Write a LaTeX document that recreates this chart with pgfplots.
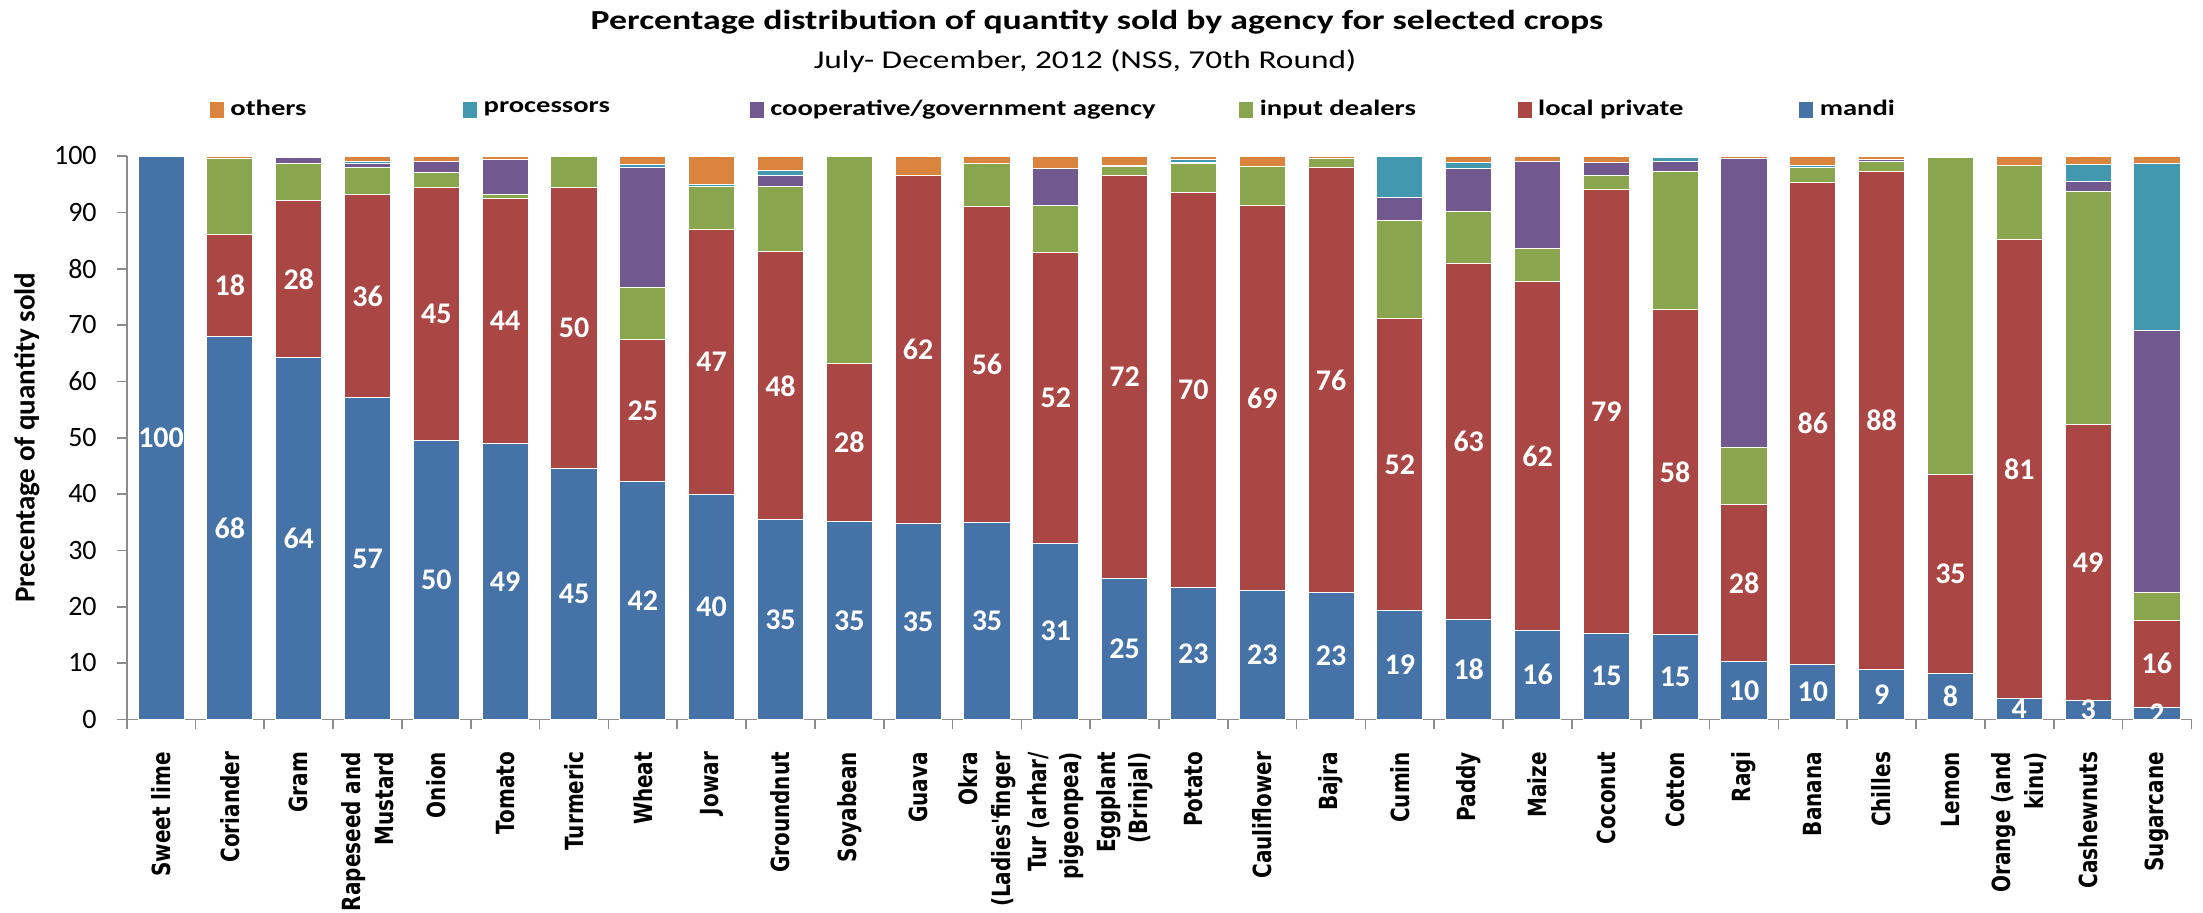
\documentclass[border=0pt]{standalone}
\usepackage{pgfplots}
\pgfplotsset{compat=1.18}
\usepackage{pgfplotstable}
\usepackage{fontspec}
\setmainfont{Carlito}
\newfontfamily\widefont{Carlito}[FakeStretch=1.3]
\newfontfamily\xlabfont{DejaVu Sans}[FakeStretch=0.8]
\definecolor{cmandi}{HTML}{4572A7}
\definecolor{clocal}{HTML}{AA4643}
\definecolor{cinput}{HTML}{89A54E}
\definecolor{ccoop}{HTML}{71588F}
\definecolor{cproc}{HTML}{4198AF}
\definecolor{cother}{HTML}{DB843D}
\definecolor{axisgray}{HTML}{8C8C8C}

\pgfplotstableread{
x mandi local input coop proc others mlab llab
0 100 0 0 0 0 0 100 {}
1 68.0 18.1 13.5 0 0 0.4 68 18
2 64.2 27.9 6.5 1.2 0 0.2 64 28
3 57.1 36.1 4.7 0.8 0.35 0.95 57 36
4 49.5 44.9 2.7 2.0 0 0.9 50 45
5 49.0 43.5 0.6 6.2 0 0.7 49 44
6 44.6 49.8 5.6 0 0 0 45 50
7 42.2 25.3 9.1 21.4 0.5 1.5 42 25
8 40.0 46.9 7.6 0 0.5 5.0 40 47
9 35.4 47.6 11.5 2.0 0.9 2.6 35 48
10 35.1 28.0 36.9 0 0 0 35 28
11 34.8 61.7 0 0 0 3.5 35 62
12 34.9 56.1 7.7 0 0 1.3 35 56
13 31.3 51.5 8.5 6.4 0 2.3 31 52
14 25.0 71.5 1.6 0 0.3 1.6 25 72
15 23.4 70.2 5.1 0.2 0.5 0.6 23 70
16 22.8 68.4 6.9 0 0 1.9 23 69
17 22.5 75.5 1.6 0 0 0.4 23 76
18 19.3 51.8 17.5 4.1 7.3 0 19 52
19 17.7 63.2 9.2 7.6 1.1 1.2 18 63
20 15.8 61.9 5.8 15.5 0 1.0 16 62
21 15.3 78.7 2.6 2.2 0 1.2 15 79
22 15.1 57.7 24.4 1.85 0.75 0.2 15 58
23 10.2 27.9 10.1 51.3 0 0.5 10 28
24 9.7 85.6 2.7 0 0.3 1.7 10 86
25 8.9 88.3 1.9 0.35 0 0.55 9 88
26 8.2 35.2 56.35 0 0 0.25 8 35
27 3.7 81.5 13.1 0 0 1.7 4 81
28 3.3 49.0 41.4 1.7 3.1 1.5 3 49
29 2.1 15.5 5.0 46.5 29.6 1.3 2 16
}\croptable

\pgfplotsset{
  sqlegend/.style={legend image code/.code={\draw[##1, draw=none] (0pt,-2.4pt) rectangle (4.2pt,2.4pt);}},
}

\begin{document}
\begin{tikzpicture}
\useasboundingbox (-38.0pt,-57.8pt) rectangle (622.9pt,215.8pt);
\begin{axis}[
  at={(0pt,0pt)}, anchor=south west,
  scale only axis, width=619.4pt, height=169.0pt,
  ybar stacked, bar width=0.67,
  xmin=-0.5, xmax=29.5, ymin=0, ymax=100,
  axis x line*=bottom, axis y line*=left,
  axis line style={draw=axisgray, line width=0.5pt, -},
  tick align=outside,
  major tick length=2.8pt,
  tick style={draw=axisgray, line width=0.5pt},
  ytick={0,10,...,100},
  xtick={-0.5,0.5,...,29.5},
  x tick label as interval,
  xticklabels={Sweet lime, Coriander, Gram, {Rapeseed and\\Mustard}, Onion, Tomato, Turmeric, Wheat, Jowar, Groundnut, Soyabean, Guava, {Okra\\(Ladies'finger}, {Tur (arhar/\\pigeonpea)}, {Eggplant\\(Brinjal)}, Potato, Cauliflower, Bajra, Cumin, Paddy, Maize, Coconut, Cotton, Ragi, Banana, Chilles, Lemon, {Orange (and\\kinu)}, Cashewnuts, Sugarcane},
  xticklabel style={rotate=90, anchor=east, align=right, inner sep=0pt, font=\xlabfont\bfseries\fontsize{7.5}{9.8}\selectfont},
  xticklabel shift=6.8pt,
  yticklabel style={font=\fontsize{8.4}{10}\selectfont, inner sep=0pt},
  yticklabel shift=6pt,
  /pgf/number format/assume math mode=true,
  ylabel={Precentage of quantity sold},
  every axis y label/.style={at={(axis description cs:-0.0483,0.5)}, rotate=90, anchor=center, font=\bfseries\fontsize{8.7}{10}\selectfont},
  legend style={at={(axis description cs:0.0399,1.0817)}, anchor=west, legend columns=6, draw=none, fill=none, inner sep=0pt,
    font=\widefont\bfseries\fontsize{6.6}{8}\selectfont,
    /tikz/column 2/.style={column sep=44.9pt},
    /tikz/column 4/.style={column sep=39.9pt},
    /tikz/column 6/.style={column sep=23.1pt},
    /tikz/column 8/.style={column sep=28.5pt},
    /tikz/column 10/.style={column sep=32.7pt}},
  legend cell align=left,
  reverse legend,
]
\addplot[fill=cmandi, draw=white, line width=0.3pt, sqlegend] table[x=x, y=mandi] {\croptable};
\addlegendentry{mandi}
\addplot[fill=clocal, draw=white, line width=0.3pt, sqlegend] table[x=x, y=local] {\croptable};
\addlegendentry{local private}
\addplot[fill=cinput, draw=white, line width=0.3pt, sqlegend] table[x=x, y=input] {\croptable};
\addlegendentry{input dealers}
\addplot[fill=ccoop, draw=white, line width=0.3pt, sqlegend] table[x=x, y=coop] {\croptable};
\addlegendentry{cooperative/government agency}
\addplot[fill=cproc, draw=white, line width=0.3pt, sqlegend] table[x=x, y=proc] {\croptable};
\addlegendentry{processors}
\addplot[fill=cother, draw=white, line width=0.3pt, sqlegend] table[x=x, y=others] {\croptable};
\addlegendentry{others}
\end{axis}
\begin{axis}[
  at={(0pt,0pt)}, anchor=south west,
  scale only axis, width=619.4pt, height=169.0pt,
  xmin=-0.5, xmax=29.5, ymin=0, ymax=100, hide axis,
]
\addplot[draw=none, mark=none, nodes near coords, point meta=explicit symbolic, nodes near coords align=center,
  every node near coord/.append style={font=\bfseries\fontsize{9}{10}\selectfont, text=white, inner sep=0pt}]
  table[x=x, y expr=\thisrow{mandi}/2, meta=mlab] {\croptable};
\addplot[draw=none, mark=none, nodes near coords, point meta=explicit symbolic, nodes near coords align=center,
  every node near coord/.append style={font=\bfseries\fontsize{9}{10}\selectfont, text=white, inner sep=0pt}]
  table[x=x, y expr=\thisrow{mandi}+\thisrow{local}/2, meta=llab] {\croptable};
\end{axis}
\node[font=\widefont\bfseries\fontsize{8.25}{10}\selectfont, anchor=base] at (291.1pt,206.8pt) {Percentage distribution of quantity sold by agency for selected crops};
\node[font=\widefont\fontsize{7.7}{9}\selectfont, anchor=base] at (287.5pt,195.1pt) {July- December, 2012 (NSS, 70th Round)};
\end{tikzpicture}
\end{document}
